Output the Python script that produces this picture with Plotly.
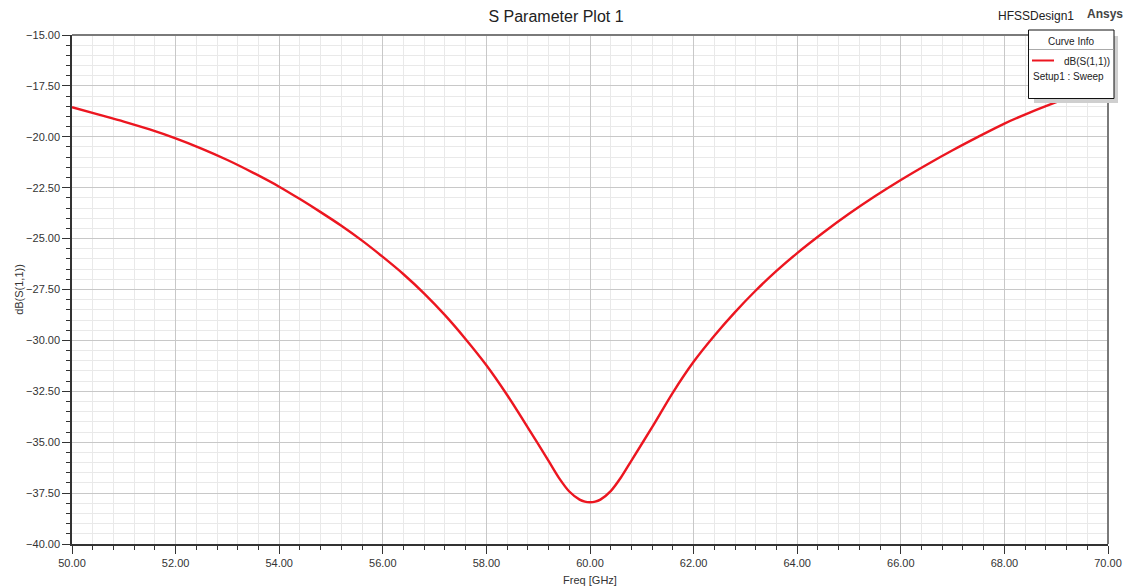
import plotly.graph_objects as go

# ---- data ----
freq_ghz = [50.0, 50.5, 51.0, 51.5, 52.0, 52.5, 53.0, 53.5, 54.0, 54.4, 54.8, 55.2, 55.6,
            56.0, 56.4, 56.8, 57.2, 57.6, 58.0, 58.4, 58.8, 59.2, 59.4, 59.6, 59.8, 59.9,
            60.0, 60.1, 60.2, 60.4, 60.6, 60.8, 61.2, 61.6, 62.0, 62.4, 62.8, 63.2, 63.6,
            64.0, 64.5, 65.0, 65.5, 66.0, 66.5, 67.0, 67.5, 68.0, 68.5, 69.0, 69.5, 70.0]
s11_db = [-18.55, -18.9, -19.25, -19.64, -20.08, -20.58, -21.14, -21.77, -22.45, -23.06, -23.7,
          -24.37, -25.1, -25.9, -26.75, -27.7, -28.76, -29.94, -31.22, -32.68, -34.28,
          -35.92, -36.75, -37.42, -37.82, -37.92, -37.95, -37.92, -37.82, -37.4, -36.72,
          -35.9, -34.26, -32.56, -31.05, -29.77, -28.61, -27.55, -26.59, -25.71, -24.71,
          -23.78, -22.92, -22.12, -21.37, -20.66, -19.99, -19.35, -18.8, -18.3, -17.82, -17.37]

x_range = [50, 70]
y_range = [-40, -15]
series_name = "dB(S(1,1))"
setup_name = "Setup1 : Sweep"

# ---- geometry helpers (pixel -> paper) ----
W, H = 1126, 586
L, R, T, B = 72, 18, 35, 42
PW, PH = W - L - R, H - T - B


def px(x):
    return (x - L) / PW


def py(y):
    return (H - B - y) / PH


FONT = "Liberation Sans, Arial, sans-serif"
RED = "rgb(236,22,32)"

fig = go.Figure()
fig.add_trace(go.Scatter(
    x=freq_ghz, y=s11_db, mode="lines", name=series_name,
    line=dict(color=RED, width=2.4, shape="spline", smoothing=0.8),
    showlegend=False,
))

axis_common = dict(
    showline=True, linecolor="#333333", linewidth=1.5,
    ticks="outside", ticklen=8, tickwidth=1.2, tickcolor="#333333",
    showgrid=True, gridcolor="#c8c8c8", gridwidth=1,
    zeroline=False, tickformat=".2f", automargin=False,
    tickfont=dict(family=FONT, size=11, color="#333333"),
)

fig.update_xaxes(
    range=x_range, dtick=2, tick0=50, **axis_common,
    minor=dict(dtick=0.4, ticks="outside", ticklen=4, tickcolor="#333333",
               showgrid=True, gridcolor="#e9e9e9", gridwidth=1),
    title=dict(text="Freq [GHz]", font=dict(family=FONT, size=11, color="#333333"), standoff=8),
)
fig.update_yaxes(
    range=y_range, dtick=2.5, tick0=-40, **axis_common,
    minor=dict(dtick=0.5, ticks="outside", ticklen=4, tickcolor="#333333",
               showgrid=True, gridcolor="#e9e9e9", gridwidth=1),
    title=dict(text="dB(S(1,1))", font=dict(family=FONT, size=11, color="#333333"), standoff=0),
)

shapes = [
    # top and right frame
    dict(type="line", xref="paper", yref="paper", x0=0, x1=1, y0=1, y1=1,
         line=dict(color="#7a7a7a", width=2), layer="above"),
    dict(type="line", xref="paper", yref="paper", x0=1, x1=1, y0=0, y1=1,
         line=dict(color="#7a7a7a", width=2), layer="above"),
    # legend shadow
    dict(type="rect", xref="paper", yref="paper",
         x0=px(1034), x1=px(1118), y0=py(103), y1=py(36),
         fillcolor="#cfcfcf", line=dict(width=0), layer="above"),
    # legend box
    dict(type="rect", xref="paper", yref="paper",
         x0=px(1028.5), x1=px(1114), y0=py(98.5), y1=py(30),
         fillcolor="white", line=dict(color="#111111", width=1), layer="above"),
    # header separator
    dict(type="line", xref="paper", yref="paper",
         x0=px(1029), x1=px(1113.5), y0=py(49.5), y1=py(49.5),
         line=dict(color="#aaaaaa", width=1), layer="above"),
    # legend line sample
    dict(type="line", xref="paper", yref="paper",
         x0=px(1032), x1=px(1054), y0=py(60.5), y1=py(60.5),
         line=dict(color=RED, width=2), layer="above"),
]

annotations = [
    dict(text="HFSSDesign1", xref="paper", yref="paper", x=px(1036), y=py(16),
         xanchor="center", yanchor="middle", showarrow=False,
         font=dict(family=FONT, size=12, color="#222222")),
    dict(text="<b>Ansys</b>", xref="paper", yref="paper", x=px(1105), y=py(14),
         xanchor="center", yanchor="middle", showarrow=False,
         font=dict(family=FONT, size=12, color="#444444")),
    dict(text="Curve Info", xref="paper", yref="paper", x=px(1071), y=py(41.5),
         xanchor="center", yanchor="middle", showarrow=False,
         font=dict(family=FONT, size=10, color="#222222")),
    dict(text=series_name, xref="paper", yref="paper", x=px(1112), y=py(61),
         xanchor="right", yanchor="middle", showarrow=False,
         font=dict(family=FONT, size=10, color="#222222")),
    dict(text=setup_name, xref="paper", yref="paper", x=px(1031), y=py(76.5),
         xanchor="left", yanchor="middle", showarrow=False,
         font=dict(family=FONT, size=10, color="#222222")),
]

fig.update_layout(
    width=W, height=H,
    margin=dict(l=L, r=R, t=T, b=B, autoexpand=False),
    paper_bgcolor="white", plot_bgcolor="white",
    title=dict(text="S Parameter Plot 1", x=556 / W, xanchor="center",
               y=1 - 16 / H, yanchor="middle",
               font=dict(family=FONT, size=16, color="#222222")),
    shapes=shapes, annotations=annotations,
    showlegend=False,
)

fig.write_html("out.html")
